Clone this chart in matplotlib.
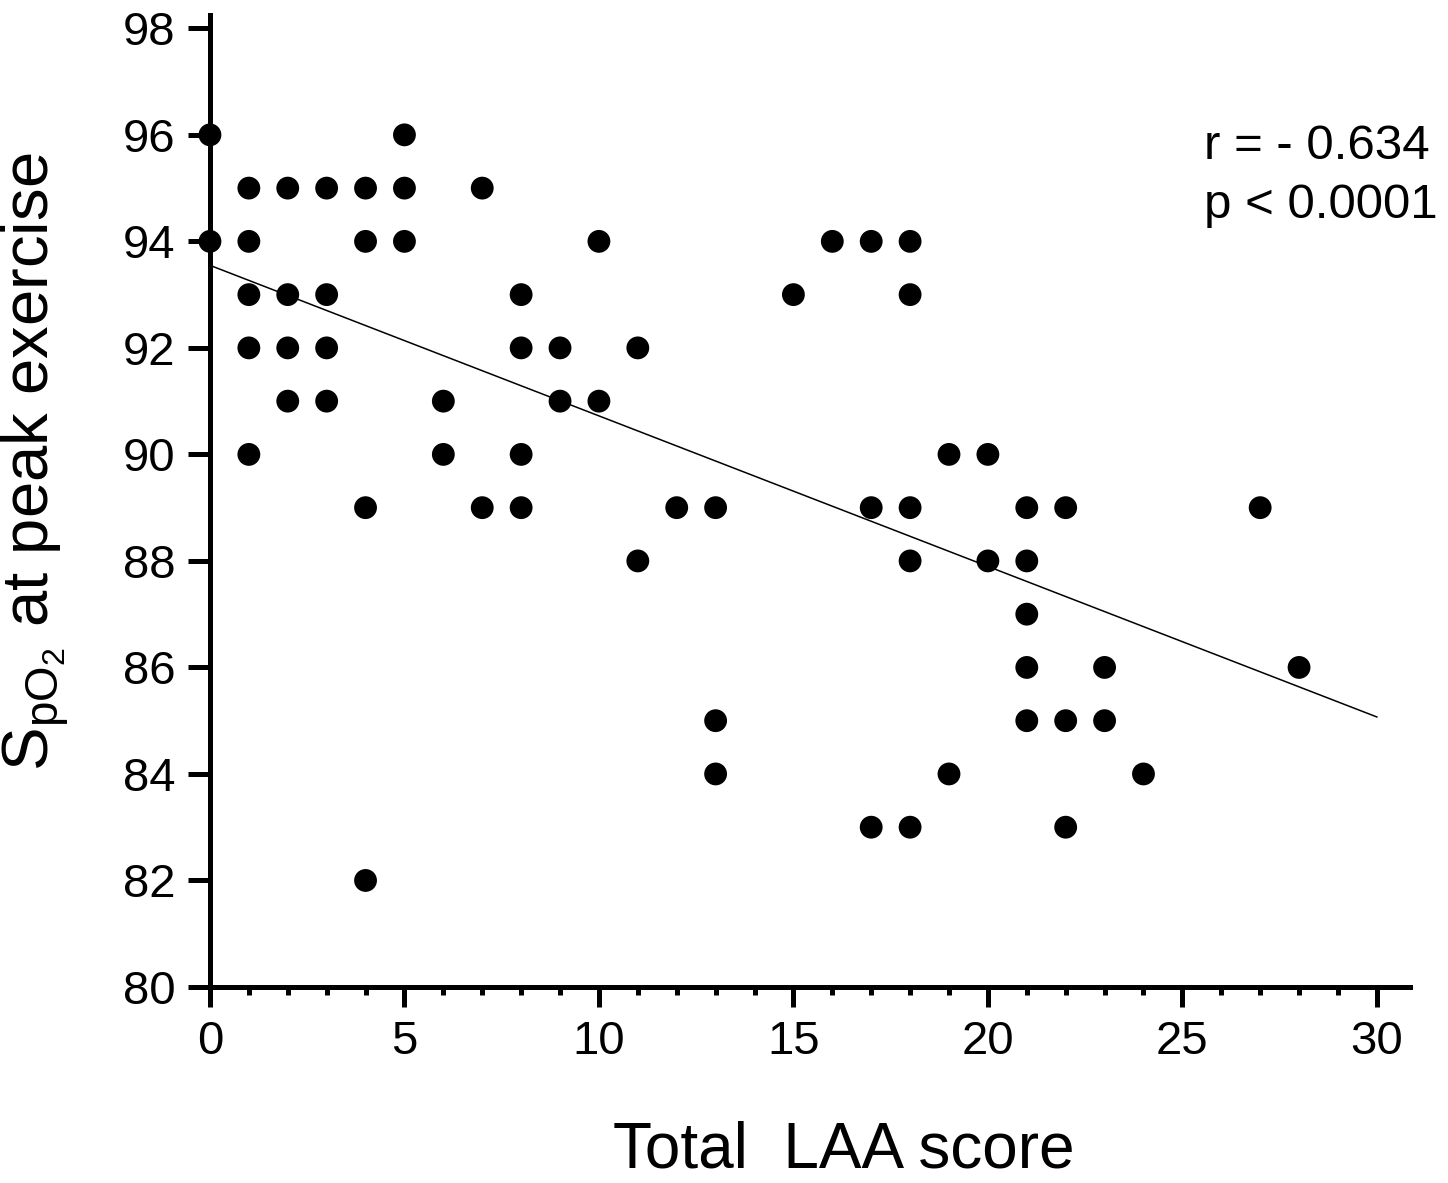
import numpy as np
import matplotlib
matplotlib.use("Agg")
import matplotlib.pyplot as plt
from matplotlib.ticker import MultipleLocator

# Total LAA score vs SpO2 at peak exercise
laa_score = [0, 0,
             1, 1, 1, 1, 1,
             2, 2, 2, 2,
             3, 3, 3, 3,
             4, 4, 4, 4,
             5, 5, 5,
             6, 6,
             7, 7,
             8, 8, 8, 8,
             9, 9,
             10, 10,
             11, 11,
             12,
             13, 13, 13,
             15,
             16,
             17, 17, 17,
             18, 18, 18, 18, 18,
             19, 19,
             20, 20,
             21, 21, 21, 21, 21,
             22, 22, 22,
             23, 23,
             24,
             27,
             28]
spo2 = [96, 94,
        95, 94, 93, 92, 90,
        95, 93, 92, 91,
        95, 93, 92, 91,
        95, 94, 89, 82,
        96, 95, 94,
        91, 90,
        95, 89,
        93, 92, 90, 89,
        92, 91,
        94, 91,
        92, 88,
        89,
        89, 85, 84,
        93,
        94,
        94, 89, 83,
        94, 93, 89, 88, 83,
        90, 84,
        90, 88,
        89, 88, 87, 86, 85,
        89, 85, 83,
        86, 85,
        84,
        89,
        86]

# regression line endpoints as drawn
fit_x = [0, 30]
fit_y = [93.55, 85.07]

stats_text = ["r = - 0.634", "p < 0.0001"]

plt.rcParams["font.family"] = ["Liberation Sans", "DejaVu Sans"]
plt.rcParams["mathtext.fontset"] = "custom"
plt.rcParams["mathtext.rm"] = "Liberation Sans"
plt.rcParams["mathtext.it"] = "Liberation Sans"

fig = plt.figure(figsize=(14.48, 11.83), dpi=100)
ax = fig.add_axes([0.145, 0.1657, 0.8287, 0.8216])

ax.plot(fit_x, fit_y, color="black", lw=1.1, zorder=2)
ax.scatter(laa_score, spo2, s=270, color="black", edgecolors="none",
           zorder=3, clip_on=False)

ax.set_xlim(0, 30.85)
ax.set_ylim(80, 98.25)
ax.xaxis.set_major_locator(MultipleLocator(5))
ax.xaxis.set_minor_locator(MultipleLocator(1))
ax.yaxis.set_major_locator(MultipleLocator(2))

for side in ("top", "right"):
    ax.spines[side].set_visible(False)
for side in ("left", "bottom"):
    ax.spines[side].set_linewidth(3.6)

ax.tick_params(axis="x", which="major", length=14.5, width=3.6,
               labelsize=34, pad=9)
ax.tick_params(axis="x", which="minor", length=6, width=3.6)
ax.tick_params(axis="y", which="major", length=16, width=3.6,
               labelsize=34, pad=9)

ax.set_xlabel("Total  LAA score", fontsize=46)
ax.xaxis.set_label_coords(0.528, -0.137)
ax.set_ylabel(r"S$_{\mathregular{pO}_2}$ at peak exercise", fontsize=47)
ax.yaxis.set_label_coords(-0.115, 0.54)

ax.text(25.55, 95.78, stats_text[0], fontsize=35.5, va="center", ha="left")
ax.text(25.55, 94.68, stats_text[1], fontsize=35.5, va="center", ha="left")

fig.savefig("out.png", dpi=100)
